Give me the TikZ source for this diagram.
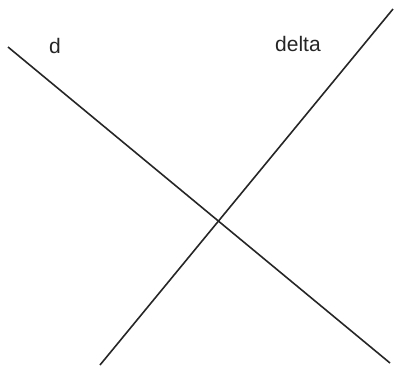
\documentclass[tikz,border=0pt]{standalone}
\usepackage{fontspec}
\setmainfont{Liberation Sans}
\begin{document}
\begin{tikzpicture}[x=1pt,y=-1pt,
  ln/.style={line width=1.6pt,black!85},
  lbl/.style={font=\fontsize{21}{25}\selectfont,text=black!85,inner sep=0pt}]
\useasboundingbox (0,0) rectangle (394,365);
\coordinate (a1) at (8,47);
\coordinate (a2) at (390,363);
\coordinate (b1) at (100,365);
\coordinate (b2) at (393,9);
\draw[ln] (a1) -- (a2);
\draw[ln] (b1) -- (b2);
\node[lbl] (d) at (55,46) {d};
\node[lbl] (delta) at (298,44) {delta};
\end{tikzpicture}
\end{document}
